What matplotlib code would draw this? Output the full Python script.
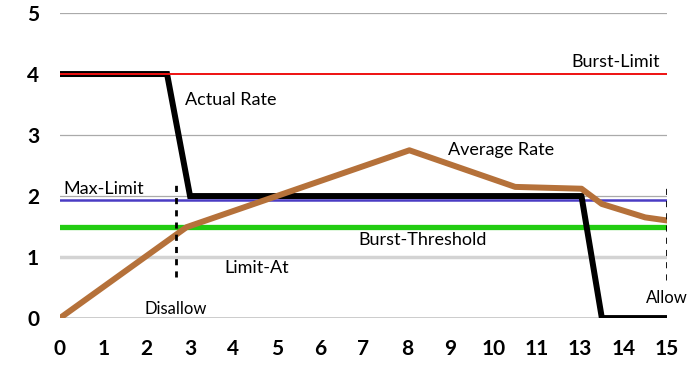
import matplotlib.pyplot as plt

# x axis positions (evenly spaced) and their labels, note there is no 12
x_labels = ['0', '1', '2', '3', '4', '5', '6', '7', '8', '9', '10', '11', '13', '14', '15']
y_ticks = [0, 1, 2, 3, 4, 5]

actual_x = [0, 2.47, 3.0, 12.03, 12.5, 14]
actual_y = [4, 4, 2, 2, 0, 0]

avg_x = [0, 2.92, 8.06, 10.5, 12.03, 12.5, 13.5, 14]
avg_y = [0, 1.49, 2.75, 2.15, 2.12, 1.87, 1.65, 1.6]

burst_limit = 4
max_limit = 1.93
burst_threshold = 1.5
limit_at = 1

disallow_x = 2.67
allow_x = 14
marker_lo, marker_hi = 0.68, 2.25

plt.rcParams['font.family'] = ['Lato', 'DejaVu Sans']

fig = plt.figure(figsize=(6.92, 3.72), dpi=100)
ax = fig.add_axes([0.0867, 0.145, 0.877, 0.82])

for yv in [2, 3, 5]:
    ax.plot([0, 14], [yv, yv], color='#aaaaaa', lw=0.9, zorder=1)
ax.plot([0, 14], [0, 0], color='black', lw=1.0, zorder=1)
ax.plot([0, 14], [limit_at, limit_at], color='#d3d3d3', lw=2.5, zorder=2)
ax.plot([0, 14], [burst_threshold, burst_threshold], color='#22cc11', lw=3.8, zorder=2)
ax.plot([0, 14], [max_limit, max_limit], color='#4a3cc4', lw=1.8, zorder=2)

ax.plot(actual_x, actual_y, color='black', lw=4.3, solid_joinstyle='miter', zorder=3)
ax.plot([0, 14], [burst_limit, burst_limit], color='#ee1111', lw=1.4, zorder=4)
ax.plot(avg_x, avg_y, color='#b5713a', lw=4.3, zorder=5)

ax.plot([disallow_x, disallow_x], [marker_lo, marker_hi], color='black', lw=2, ls=(0, (2.2, 2.2)), zorder=6)
ax.plot([allow_x, allow_x], [marker_lo - 0.05, marker_hi - 0.05], color='black', lw=2, ls=(0, (2.2, 2.2)), zorder=6)

fs = 13
ax.text(13.84, 4.06, 'Burst-Limit', fontsize=fs, ha='right', va='bottom')
ax.text(2.88, 3.58, 'Actual Rate', fontsize=fs, ha='left', va='center')
ax.text(8.95, 2.75, 'Average Rate', fontsize=fs, ha='left', va='center')
ax.text(0.07, 1.98, 'Max-Limit', fontsize=fs, ha='left', va='bottom')
ax.text(8.37, 1.28, 'Burst-Threshold', fontsize=fs, ha='center', va='center')
ax.text(4.54, 0.82, 'Limit-At', fontsize=fs, ha='center', va='center')
ax.text(2.68, 0.15, 'Disallow', fontsize=12, ha='center', va='center')
ax.text(14.0, 0.33, 'Allow', fontsize=12, ha='center', va='center')

ax.set_xlim(0, 14)
ax.set_ylim(0, 5)
ax.set_xticks(range(len(x_labels)))
ax.set_xticklabels(x_labels)
ax.set_yticks(y_ticks)
ax.tick_params(length=0, labelsize=15)
ax.tick_params(axis='x', pad=15)
ax.tick_params(axis='y', pad=15)
for lab in ax.get_xticklabels() + ax.get_yticklabels():
    lab.set_fontweight('bold')
for s in ax.spines.values():
    s.set_visible(False)

plt.savefig('out.png', dpi=100)
